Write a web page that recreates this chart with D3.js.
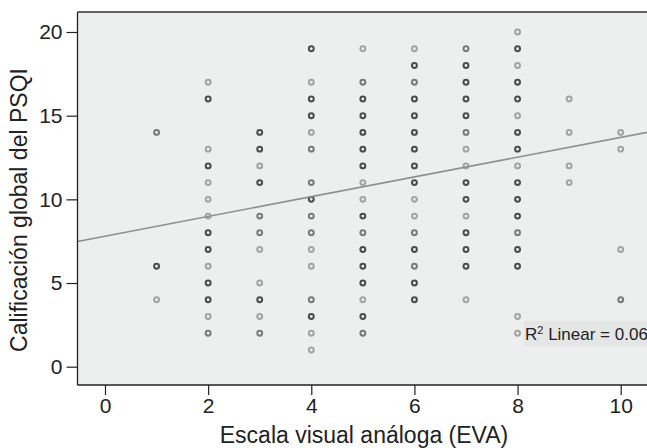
<!DOCTYPE html>
<html><head><meta charset="utf-8">
<script src="https://cdn.jsdelivr.net/npm/d3@7"></script>
<style>body{margin:0;background:#fff}svg{display:block;font-family:"Liberation Sans",Arial,sans-serif}</style>
</head><body><svg id="c" width="647" height="448"></svg>
<script>
// EVA value (x) for each column, PSQI scores observed (y), and overlap weight (1 light .. 3 dark)
const evaValues = [1,2,3,4,5,6,7,8,9,10];
const psqiByEva = [
  [14,6,4],
  [17,16,13,12,11,10,9,8,7,6,5,4,3,2],
  [14,13,12,11,9,8,7,5,4,3,2],
  [19,17,16,15,14,13,11,10,9,8,7,6,4,3,2,1],
  [19,17,16,15,14,13,12,11,10,9,8,7,6,5,4,3,2],
  [19,18,17,16,15,14,13,12,11,10,9,8,7,6,5,4],
  [19,18,17,16,15,14,13,12,11,10,9,8,7,6,4],
  [20,19,18,17,16,15,14,13,12,11,10,9,8,7,6,3,2],
  [16,14,12,11],
  [14,13,7,4]
];
const overlapByEva = [
  [2,3,1],
  [1,3,1,3,1,1,1,3,3,1,3,3,1,2],
  [3,3,1,3,2,2,1,1,3,1,2],
  [3,1,3,3,1,2,2,3,2,2,1,1,2,3,1,1],
  [1,2,3,3,3,3,3,1,1,3,2,3,3,3,1,3,2],
  [1,3,2,3,3,3,3,3,3,1,1,2,3,2,3,3],
  [2,3,3,3,3,2,1,1,3,3,1,3,3,3,1],
  [1,3,1,3,3,1,3,3,1,3,3,3,2,3,3,1,1],
  [1,1,1,1],
  [1,1,1,2]
];
const xTicks = [0,2,4,6,8,10];
const yTicks = [0,5,10,15,20];
const fitIntercept = 7.8;
const fitSlope = 0.59;
const r2Label = "0.06";
const xTitle = "Escala visual análoga (EVA)";
const yTitle = "Calificación global del PSQI";

const points = [];
evaValues.forEach((e,i)=>psqiByEva[i].forEach((v,j)=>points.push({x:e,y:v,w:overlapByEva[i][j]})));

const svg = d3.select("#c");
const L=77.5, R=647, T=12, B=385;
const x = d3.scaleLinear().domain([0,10]).range([105,620.7]);
const y = d3.scaleLinear().domain([0,20]).range([366.7,32]);

svg.append("rect").attr("x",L).attr("y",T).attr("width",R-L).attr("height",B-T).attr("fill","#edefef");
svg.append("line").attr("x1",L).attr("x2",R).attr("y1",T).attr("y2",T).attr("stroke","#333").attr("stroke-width",1.3);

const shade = d3.scaleOrdinal().domain([1,2,3]).range(["#a2a4a4","#787a7a","#4a4c4c"]);
svg.append("g").selectAll("circle").data(points).join("circle")
  .attr("cx",d=>x(d.x)).attr("cy",d=>y(d.y)).attr("r",2.45)
  .attr("fill","none").attr("stroke",d=>shade(d.w)).attr("stroke-width",2);

const x0 = x.invert(L), x1 = x.invert(R);
svg.append("line").attr("x1",x(x0)).attr("y1",y(fitIntercept+fitSlope*x0))
  .attr("x2",x(x1)).attr("y2",y(fitIntercept+fitSlope*x1))
  .attr("stroke","#8e9090").attr("stroke-width",1.6);

// R2 label
svg.append("rect").attr("x",524).attr("y",321).attr("width",R-524).attr("height",25).attr("fill","#e4e6e6");
const t = svg.append("text").attr("x",525).attr("y",339.5).attr("font-size",17).attr("fill","#222");
t.append("tspan").text("R");
t.append("tspan").attr("dy",-6).attr("font-size",11).text("2");
t.append("tspan").attr("dy",6).text(" Linear = "+r2Label);

const xa = svg.append("g").attr("transform",`translate(0,${B})`)
  .call(d3.axisBottom(x).tickValues(xTicks).tickSize(10).tickPadding(3).tickSizeOuter(0));
xa.select(".domain").attr("d",`M${L},0H${R}`).attr("stroke","#222").attr("stroke-width",1.3);
xa.selectAll(".tick line").attr("stroke","#222").attr("stroke-width",1.2);
xa.selectAll("text").attr("font-size",21).attr("fill","#222").attr("font-family","Liberation Sans, Arial, sans-serif");

const ya = svg.append("g").attr("transform",`translate(${L},0)`)
  .call(d3.axisLeft(y).tickValues(yTicks).tickSize(11).tickPadding(4).tickSizeOuter(0));
ya.select(".domain").attr("d",`M0,${T}V${B}`).attr("stroke","#222").attr("stroke-width",1.3);
ya.selectAll(".tick line").attr("stroke","#222").attr("stroke-width",1.2);
ya.selectAll("text").attr("font-size",21).attr("fill","#222").attr("font-family","Liberation Sans, Arial, sans-serif");

svg.append("text").attr("x",364).attr("y",443).attr("text-anchor","middle")
  .attr("font-size",23).attr("fill","#222").text(xTitle);
svg.append("text").attr("transform","translate(27,210) rotate(-90)").attr("text-anchor","middle")
  .attr("font-size",23).attr("fill","#222").text(yTitle);
</script></body></html>
